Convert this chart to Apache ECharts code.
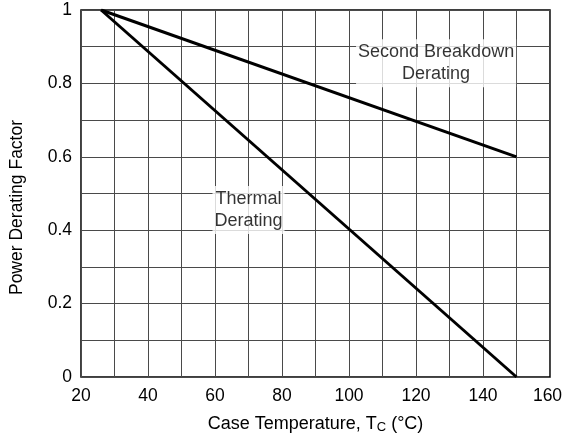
<!DOCTYPE html>
<html>
<head>
<meta charset="utf-8">
<script src="https://cdn.jsdelivr.net/npm/echarts@6/dist/echarts.min.js"></script>
<style>
  html, body { margin: 0; padding: 0; background: #fff; }
  #chart { width: 562px; height: 439px; }
</style>
</head>
<body>
<div id="chart"></div>
<script>
// Case temperature (°C) endpoints for each derating curve
const thermalTemps = [26, 150];
const thermalFactor = [1, 0];
const breakdownTemps = [26, 150];
const breakdownFactor = [1, 0.6];

// Labelled ticks (grid is drawn at half these steps)
const xTickLabels = [20, 40, 60, 80, 100, 120, 140, 160];
const yTickLabels = ['0', '0.2', '0.4', '0.6', '0.8', '1'];

// Curve annotations: [temperature, factor, text]
const annotations = [
  [70, 0.455, 'Thermal\nDerating'],
  [126, 0.855, 'Second Breakdown\nDerating']
];

const FONT = '"Liberation Sans", Arial, sans-serif';
const INK = '#000';
const pairs = (xs, ys) => xs.map((x, i) => [x, ys[i]]);

const chart = echarts.init(document.getElementById('chart'), null, { renderer: 'canvas' });

chart.setOption({
  animation: false,
  backgroundColor: '#fff',
  grid: {
    left: 81, right: 12, top: 10, bottom: 62,
    outerBoundsMode: 'none', containLabel: false,
    show: true, borderColor: '#000', borderWidth: 1.5, backgroundColor: 'transparent'
  },
  xAxis: {
    type: 'value', min: 20, max: 160, interval: 10,
    name: 'Case Temperature, T{sub|C} (°C)',
    nameLocation: 'middle', nameGap: 38,
    nameTextStyle: {
      fontFamily: FONT, fontSize: 18, color: INK,
      rich: { sub: { fontFamily: FONT, fontSize: 13, color: INK, padding: [6, 0, 0, 0] } }
    },
    axisLine: { show: false },
    axisTick: { show: false },
    axisLabel: {
      fontFamily: FONT, fontSize: 17.5, color: INK, margin: 10,
      formatter: v => {
        const n = Math.round(v);
        if (!xTickLabels.includes(n)) return '';
        // keep the last label inside the canvas edge
        return n === xTickLabels[xTickLabels.length - 1] ? '{edge|' + n + '}' : String(n);
      },
      rich: { edge: { fontFamily: FONT, fontSize: 17.5, color: INK, padding: [0, 5, 0, 0] } }
    },
    splitLine: { show: true, lineStyle: { color: '#4a4a4a', width: 1 } }
  },
  yAxis: {
    type: 'value', min: 0, max: 1, interval: 0.1,
    name: 'Power Derating Factor',
    nameLocation: 'middle', nameGap: 55,
    nameTextStyle: { fontFamily: FONT, fontSize: 17.5, color: INK, padding: [0, 28, 0, 0] },
    axisLine: { show: false },
    axisTick: { show: false },
    axisLabel: {
      fontFamily: FONT, fontSize: 17.5, color: INK, margin: 9,
      formatter: v => {
        const s = String(Math.round(v * 10) / 10);
        return yTickLabels.includes(s) ? s : '';
      }
    },
    splitLine: { show: true, lineStyle: { color: '#4a4a4a', width: 1 } }
  },
  series: [
    {
      type: 'line', name: 'Thermal Derating',
      data: pairs(thermalTemps, thermalFactor),
      symbol: 'none', z: 5,
      lineStyle: { color: '#000', width: 3 }
    },
    {
      type: 'line', name: 'Second Breakdown Derating',
      data: pairs(breakdownTemps, breakdownFactor),
      symbol: 'none', z: 5,
      lineStyle: { color: '#000', width: 3 }
    },
    {
      type: 'scatter', name: 'labels',
      data: annotations.map(a => ({ value: [a[0], a[1]], text: a[2] })),
      symbolSize: 0, z: 4, silent: true,
      label: {
        show: true, position: 'inside',
        formatter: p => p.data.text,
        fontFamily: FONT, fontSize: 18, lineHeight: 22, color: INK,
        backgroundColor: '#fff', padding: [2, 2, 2, 2], align: 'center'
      }
    }
  ]
});
</script>
</body>
</html>
